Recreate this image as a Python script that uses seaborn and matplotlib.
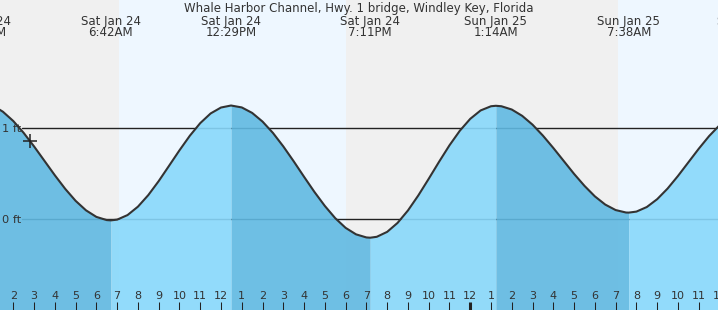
import matplotlib
matplotlib.use("Agg")
import matplotlib.pyplot as plt
import matplotlib.transforms as mtransforms
import numpy as np
import seaborn as sns

# ---- data (hours counted from Sat Jan 24 00:00) ----
curve_hours = [1.0, 1.5, 2.0, 2.5, 3.0, 3.5, 4.0, 4.5, 5.0, 5.5, 6.0, 6.5, 6.70,
               7.0, 7.5, 8.0, 8.5, 9.0, 9.5, 10.0, 10.5, 11.0, 11.5, 12.0, 12.483,
               13.0, 13.5, 14.0, 14.5, 15.0, 15.5, 16.0, 16.5, 17.0, 17.5, 18.0, 18.5, 19.0, 19.183,
               19.5, 20.0, 20.5, 21.0, 21.5, 22.0, 22.5, 23.0, 23.5, 24.0, 24.5, 25.0, 25.233,
               25.5, 26.0, 26.5, 27.0, 27.5, 28.0, 28.5, 29.0, 29.5, 30.0, 30.5, 31.0, 31.5, 31.633,
               32.0, 32.5, 33.0, 33.5, 34.0, 34.5, 35.0, 35.5, 36.0]
curve_feet = [1.245, 1.175, 1.073, 0.943, 0.795, 0.637, 0.479, 0.330, 0.199, 0.095, 0.023, -0.012, -0.015,
              -0.007, 0.043, 0.135, 0.262, 0.415, 0.583, 0.752, 0.912, 1.050, 1.156, 1.221, 1.243,
              1.222, 1.162, 1.067, 0.943, 0.795, 0.632, 0.462, 0.296, 0.143, 0.009, -0.097, -0.168, -0.202, -0.205,
              -0.195, -0.141, -0.043, 0.093, 0.258, 0.440, 0.627, 0.807, 0.967, 1.097, 1.189, 1.235, 1.240,
              1.235, 1.199, 1.130, 1.033, 0.913, 0.778, 0.636, 0.494, 0.363, 0.248, 0.158, 0.098, 0.071, 0.070,
              0.081, 0.131, 0.217, 0.333, 0.471, 0.620, 0.769, 0.908, 1.026]

extreme_hours = [0.43, 6.70, 12.483, 19.183, 25.233, 31.633, 37.4]
extreme_days = ["Sat Jan 24", "Sat Jan 24", "Sat Jan 24", "Sat Jan 24",
                "Sun Jan 25", "Sun Jan 25", "Sun Jan 25"]
extreme_times = ["12:26AM", "6:42AM", "12:29PM", "7:11PM", "1:14AM", "7:38AM", "1:24PM"]

daylight_spans = [(7.09, 18.0), (31.13, 43.0)]
night_spans = [(-5.0, 7.09), (18.0, 31.13)]

tick_hours = list(range(2, 37))
tick_labels = [str(h % 12 if h % 12 else 12) for h in tick_hours]
midnight_hours = [24]

ref_levels = [0, 1]
ref_labels = ["0 ft", "1 ft"]

now_hour = 2.8
now_feet = 0.85

title = "Whale Harbor Channel, Hwy. 1 bridge, Windley Key, Florida"

# ---- figure ----
sns.set_style("white")
plt.rcParams['font.family'] = ['DejaVu Sans']
W, H = 718, 310
fig = plt.figure(figsize=(W / 100, H / 100), dpi=100)
ax = fig.add_axes([0, 0, 1, 1])

px_per_hr = 20.77
x_left = 12 - 221 / px_per_hr
x_right = 12 + (W - 221) / px_per_hr
px_per_ft = 91.3
y_bot = (219 - H) / px_per_ft
y_top = 219 / px_per_ft
ax.set_xlim(x_left, x_right)
ax.set_ylim(y_bot, y_top)
ax.axis("off")

for a, b in night_spans:
    ax.axvspan(a, b, color="#f0f0f0", lw=0, zorder=0)
for a, b in daylight_spans:
    ax.axvspan(a, b, color="#eef7ff", lw=0, zorder=0)

for lv in ref_levels:
    ax.axhline(lv, xmin=22 / W, xmax=1, color="#222222", lw=1.0, zorder=1)

x = np.array(curve_hours)
y = np.array(curve_feet)
bounds = [x_left - 1] + extreme_hours[1:-1] + [x_right + 5]
for i in range(len(bounds) - 1):
    a, b = bounds[i], bounds[i + 1]
    falling = (i % 2 == 0)
    col = "#60b9e2" if falling else "#88d8fb"
    ax.fill_between(x, y, y_bot, where=(x >= a) & (x <= b), color=col,
                    alpha=0.9, lw=0, zorder=2)

sns.lineplot(x=curve_hours, y=curve_feet, color="#333333", lw=1.5, ax=ax, zorder=3)

ax.plot([now_hour], [now_feet], marker="+", ms=10, mew=1.1, color="#222222", zorder=4)

txt = "#333333"
trans = mtransforms.blended_transform_factory(ax.transData, ax.transAxes)

def fy(py):
    return (H - py) / H

for lv, lab in zip(ref_levels, ref_labels):
    base_px = 219 - lv * px_per_ft + 4.3
    ax.text(2 / W, fy(base_px), lab, transform=ax.transAxes, ha="left", va="baseline",
            fontsize=8.2, color=txt, zorder=5)

for h, lab in zip(tick_hours, tick_labels):
    lw = 2.2 if h in midnight_hours else 0.75
    ax.plot([h, h], [0, 8 / H], transform=trans, color="#222222", lw=lw,
            solid_capstyle="butt", zorder=5)
    ax.text(h, fy(299.3), lab, transform=trans, ha="center", va="baseline",
            fontsize=8, color=txt, zorder=5)

for h, d, t in zip(extreme_hours, extreme_days, extreme_times):
    ax.text(h, fy(24.5), d, transform=trans, ha="center", va="baseline",
            fontsize=8.5, color=txt, zorder=5)
    ax.text(h, fy(36.2), t, transform=trans, ha="center", va="baseline",
            fontsize=8.5, color=txt, zorder=5)

ax.text(0.5, fy(11.7), title, transform=ax.transAxes, ha="center", va="baseline",
        fontsize=8.5, color=txt, zorder=5)

fig.savefig("out.png", dpi=100)
